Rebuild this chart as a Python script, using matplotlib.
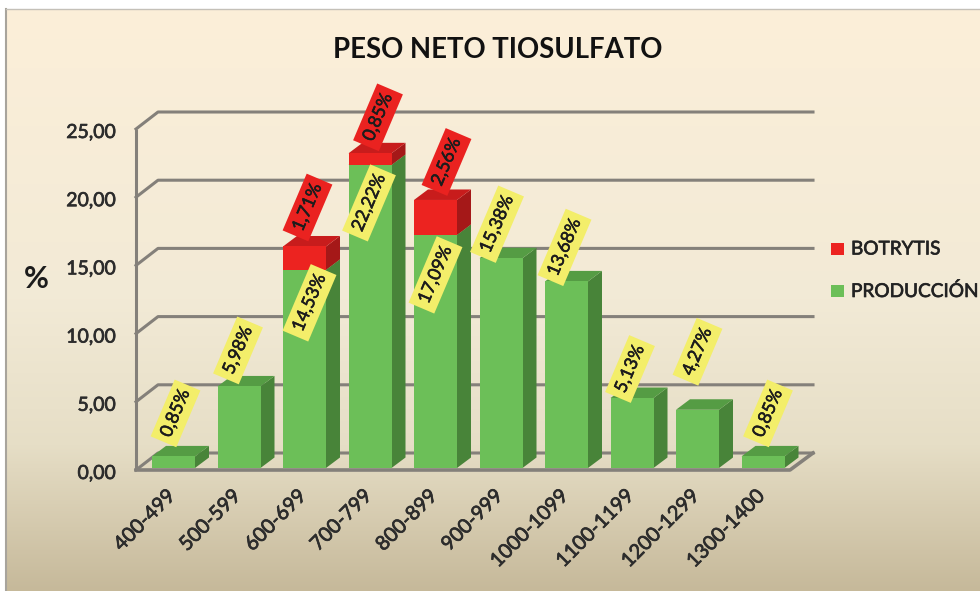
import matplotlib
matplotlib.use('Agg')
import matplotlib.pyplot as plt
import numpy as np
import matplotlib.patheffects as pe
from matplotlib.colors import LinearSegmentedColormap
from matplotlib.patches import Polygon, Rectangle

plt.rcParams['font.family'] = ['Lato', 'DejaVu Sans']

categories = ['400-499', '500-599', '600-699', '700-799', '800-899', '900-999',
              '1000-1099', '1100-1199', '1200-1299', '1300-1400']
produccion = [0.85, 5.98, 14.53, 22.22, 17.09, 15.38, 13.68, 5.13, 4.27, 0.85]
botrytis = [0, 0, 1.71, 0.85, 2.56, 0, 0, 0, 0, 0]
y_ticks = [0, 5, 10, 15, 20, 25]

# label shift from the top of each segment, in pixels
prod_shift = [(2, 43), (-1, 36), (5, -33), (-1, -38), (0, -40),
              (-4, 34), (-2, 34), (-2, 29), (0, 58), (5, 43)]
bot_shift = {2: (3, 39), 3: (8, 36), 4: (11, 38)}

# pixel sizes turned into data units: one category = 65.5 px, one % = 13.64 px
px_x = 1 / 65.5
px_y = 1 / 13.64
def X(px):
    return (px - 173.5) * px_x
def Y(py):
    return (470 - py) * px_y

heavy = [pe.withStroke(linewidth=0.5, foreground='#2c2c2c')]

fig = plt.figure(figsize=(9.8, 5.91), dpi=100, facecolor='white')
ax = fig.add_axes([0, 0, 1, 1])
ax.axis('off')

# background
bg = LinearSegmentedColormap.from_list('bg', [(0, '#fcefd9'), (0.5, '#f2ead6'),
                                              (0.75, '#e6dec6'), (1, '#c6b99a')])
grad = np.linspace(0, 1, 256).reshape(-1, 1)
ax.imshow(grad, cmap=bg, aspect='auto', extent=(X(6), X(980), Y(591), Y(9)), zorder=0)
ax.plot([X(6), X(6)], [Y(591), Y(9)], color='#a8a49c', lw=1.5, zorder=1)
ax.plot([X(6), X(980)], [Y(9), Y(9)], color='#c4c0b8', lw=1, zorder=1)
ax.set_xlim(X(0), X(980))
ax.set_ylim(Y(591), Y(0))

# walls
dx_w, dy_w = 22 * px_x, 17 * px_y
grid = '#84807a'
ax.plot([X(136), X(136)], [0, 25], color=grid, lw=2.2, zorder=2, solid_capstyle='butt')
for t in y_ticks:
    ax.plot([X(136), X(136) + dx_w, X(813)], [t, t + dy_w, t + dy_w], color=grid, lw=2.2, zorder=2)
    ax.text(X(116), t - 3.5 * px_y, f'{t:.2f}'.replace('.', ','), ha='right', va='center',
            fontsize=14, color='#2c2c2c', zorder=3, path_effects=heavy)
ax.plot([X(136), X(790), X(813)], [0, 0, dy_w], color=grid, lw=2.6, zorder=2)

# bars sit 2 px above the floor line
base = 2 * px_y
xs = np.arange(len(categories))
w = 43 * px_x
dx, dy = 14 * px_x, 10.5 * px_y
green = ('#6cbf58', '#559c44', '#488439')
red = ('#ec2320', '#c81c1c', '#a51818')

def box(x, y0, y1, cols):
    l, r = x - w / 2, x + w / 2
    ax.add_patch(Polygon([(r, y0), (r + dx, y0 + dy), (r + dx, y1 + dy), (r, y1)], fc=cols[2], ec='none', zorder=4 + x * 0.01))
    ax.add_patch(Polygon([(l, y1), (r, y1), (r + dx, y1 + dy), (l + dx, y1 + dy)], fc=cols[1], ec='none', zorder=4 + x * 0.01))
    ax.bar(x, y1 - y0, w, bottom=y0, color=cols[0], zorder=4.1 + x * 0.01)

for i in xs:
    box(i, base, base + produccion[i], green)
    if botrytis[i] > 0:
        box(i, base + produccion[i], base + produccion[i] + botrytis[i], red)

# data labels
for i in xs:
    ax.annotate(f'{produccion[i]:.2f}%'.replace('.', ','), (i, base + produccion[i]),
                xytext=prod_shift[i], textcoords='offset pixels', rotation=67,
                ha='center', va='center', fontsize=13, color='#1c1c1c', zorder=8,
                rotation_mode='anchor', path_effects=[pe.withStroke(linewidth=0.4, foreground='#1c1c1c')],
                bbox=dict(boxstyle='square,pad=0.33', fc='#f3ee6a', ec='none'))
    if botrytis[i] > 0:
        ax.annotate(f'{botrytis[i]:.2f}%'.replace('.', ','), (i, base + produccion[i] + botrytis[i]),
                    xytext=bot_shift[i], textcoords='offset pixels', rotation=67,
                    ha='center', va='center', fontsize=13, color='#1c1c1c', zorder=9,
                    rotation_mode='anchor', path_effects=[pe.withStroke(linewidth=0.4, foreground='#1c1c1c')],
                    bbox=dict(boxstyle='square,pad=0.33', fc='#ea2220', ec='none'))

# category labels
for i in xs:
    ax.text(i - 7 * px_x, Y(487), categories[i], rotation=45, ha='right', va='top',
            rotation_mode='anchor', fontsize=14.5, color='#2c2c2c', zorder=3, path_effects=heavy)

ax.text(X(498), Y(50), 'PESO NETO TIOSULFATO', ha='center', va='center', fontsize=19.8,
        fontweight='bold', color='#111111', zorder=3)
ax.text(X(36), Y(279), '%', ha='center', va='center', fontsize=22, fontweight='bold',
        color='#1c1c1c', zorder=3)

# legend
for name, col, py in [('BOTRYTIS', red[0], 249), ('PRODUCCIÓN', green[0], 291)]:
    ax.add_patch(Rectangle((X(831), Y(py + 6)), 13 * px_x, 12 * px_y, fc=col, ec='none', zorder=3))
    ax.text(X(851), Y(py), name, ha='left', va='center', fontsize=13.7,
            color='#222222', zorder=3, path_effects=heavy)

fig.savefig('out.png', dpi=100)
